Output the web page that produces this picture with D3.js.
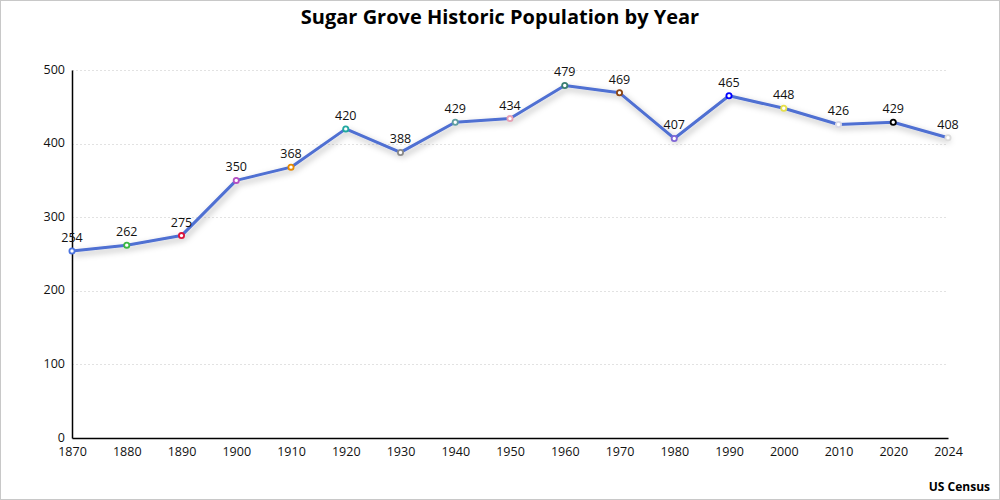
<!DOCTYPE html>
<html lang="en">
<head>
<meta charset="UTF-8" />
<script src="https://d3js.org/d3.v7.min.js"></script>
<title>Sugar Grove Historic Population by Year</title>
<style>
    html, body { margin: 0; padding: 0; background: #fff; }
    svg { display: block; font-family: "Open Sans", "Noto Sans", sans-serif; }
</style>
</head>
<body>
<svg width="1000" height="500"></svg>
<script>
    const years = ["1870", "1880", "1890", "1900", "1910", "1920", "1930", "1940", "1950",
        "1960", "1970", "1980", "1990", "2000", "2010", "2020", "2024"]
    const population = [254, 262, 275, 350, 368, 420, 388, 429, 434, 479, 469, 407, 465, 448, 426, 429, 408]
    const yTicks = [0, 100, 200, 300, 400, 500]
    const markerColors = ["#4a73e0", "#3cb843", "#dc143c", "#b44fc4", "#e88a00", "#20a8a0", "#8a8a8a",
        "#5f9ea0", "#e8a0b4", "#3a7f72", "#8b4513", "#8066d6", "#0000ff", "#e6e04a", "#d8d8e6", "#000000", "#dcdcdc"]

    const width = 1000, height = 500
    const margin = { left: 72, right: 52, top: 70, bottom: 62 }

    const svg = d3.select("svg")

    // border
    svg.append("rect").attr("x", 0.5).attr("y", 0.5).attr("width", width - 1).attr("height", height - 1)
        .attr("fill", "#fff").attr("stroke", "#c8c8c8")

    const defs = svg.append("defs")
    const f = defs.append("filter").attr("id", "shadow").attr("x", "-10%").attr("y", "-10%").attr("width", "120%").attr("height", "130%")
    f.append("feDropShadow").attr("dx", 2).attr("dy", 3).attr("stdDeviation", 3).attr("flood-color", "#000").attr("flood-opacity", 0.3)

    const x = d3.scalePoint().domain(years).range([margin.left, width - margin.right])
    const y = d3.scaleLinear().domain([0, 500]).range([height - margin.bottom, margin.top])

    // title
    svg.append("text").attr("x", width / 2).attr("y", 24).attr("text-anchor", "middle")
        .attr("font-size", 20).attr("font-weight", "bold").attr("fill", "#000")
        .text("Sugar Grove Historic Population by Year")

    // grid
    svg.append("g").selectAll("line").data(yTicks.filter(d => d > 0)).enter().append("line")
        .attr("x1", margin.left).attr("x2", width - margin.right)
        .attr("y1", d => Math.round(y(d)) + 0.5).attr("y2", d => Math.round(y(d)) + 0.5)
        .attr("stroke", "#e2e2e2").attr("stroke-dasharray", "2,2")

    const xAxis = g => g.attr("transform", `translate(0,${y(0)})`)
        .call(d3.axisBottom(x).tickSize(0).tickPadding(9))
        .call(g => g.select(".domain").attr("stroke", "#000").attr("stroke-width", 1.5))
        .call(g => g.selectAll("text").attr("font-size", 12.5).attr("fill", "#111"))
    const yAxis = g => g.attr("transform", `translate(${margin.left},0)`)
        .call(d3.axisLeft(y).tickValues(yTicks).tickSize(0).tickPadding(7))
        .call(g => g.select(".domain").attr("stroke", "#000").attr("stroke-width", 1.5))
        .call(g => g.selectAll("text").attr("font-size", 12.5).attr("fill", "#111").attr("dy", "0.25em"))

    svg.append("g").call(xAxis).attr("font-family", null)
    svg.append("g").call(yAxis).attr("font-family", null)

    const data = years.map((d, i) => ({ year: d, value: population[i], color: markerColors[i] }))

    const line = d3.line().x(d => x(d.year)).y(d => y(d.value))
    svg.append("path").datum(data).attr("d", line).attr("fill", "none")
        .attr("stroke", "#4f6fd2").attr("stroke-width", 3).attr("stroke-linejoin", "round")
        .attr("filter", "url(#shadow)")

    svg.append("g").selectAll("circle").data(data).enter().append("circle")
        .attr("cx", d => x(d.year)).attr("cy", d => y(d.value)).attr("r", 2.6)
        .attr("fill", "#fff").attr("stroke", d => d.color).attr("stroke-width", 1.8)

    svg.append("g").selectAll("text").data(data).enter().append("text")
        .attr("x", d => x(d.year)).attr("y", d => y(d.value) - 9)
        .attr("text-anchor", "middle").attr("font-size", 12.5).attr("fill", "#111")
        .text(d => d.value)

    svg.append("text").attr("x", 990).attr("y", 491).attr("text-anchor", "end")
        .attr("font-size", 12).attr("font-weight", "bold").attr("fill", "#000").text("US Census")
</script>
</body>
</html>
